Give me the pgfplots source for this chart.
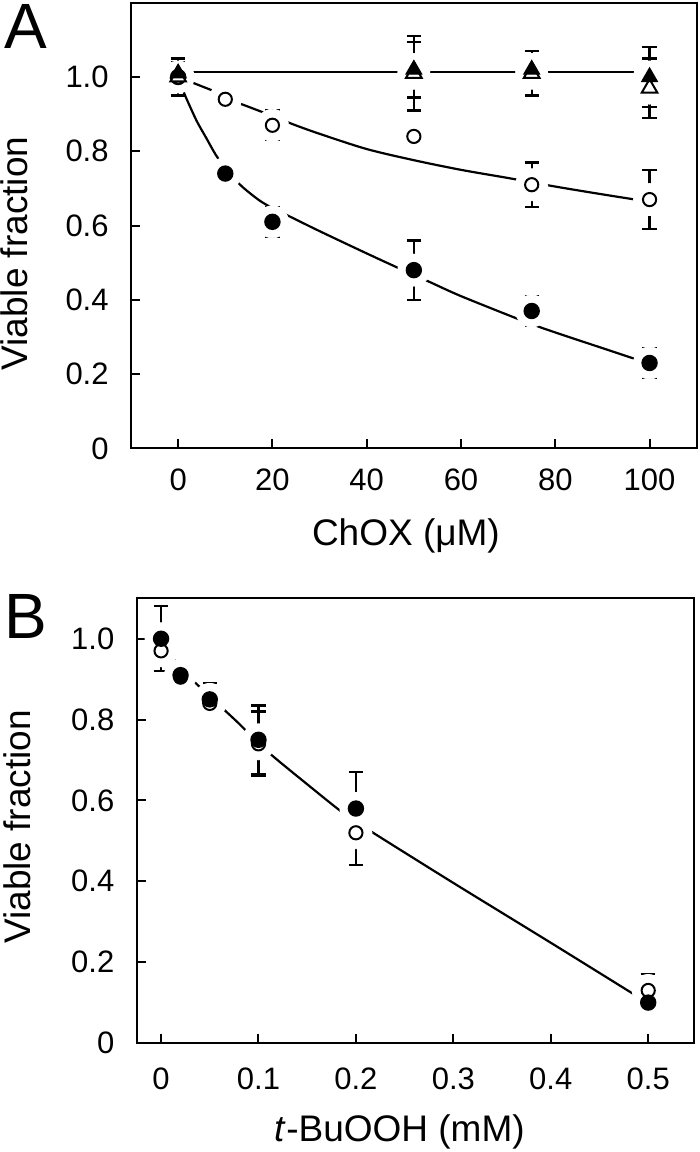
\documentclass[border=0pt]{standalone}
\usepackage{fontspec}
\setmainfont{Liberation Sans}
\usepackage{pgfplots}
\pgfplotsset{compat=1.18}

\pgfplotsset{
  panel/.style={
    scale only axis,
    axis line style={line width=1pt},
    tick align=inside, xtick pos=bottom, ytick pos=left,
    major tick length=4.7pt,
    tick style={line width=1pt, black},
    ticklabel style={font=\fontsize{15.5}{18}\selectfont, inner sep=0pt},
    label style={font=\fontsize{18.5}{22}\selectfont, inner sep=0pt},
    ytick={0,0.2,0.4,0.6,0.8,1.0},
    yticklabels={0,0.2,0.4,0.6,0.8,1.0},
    yticklabel style={xshift=-11pt},
    ylabel={Viable fraction},
  },
  curve/.style={black, line width=1.1pt, smooth, tension=0.5, no markers},
  halo/.style={white, only marks, mark=*, mark size=8pt, mark options={draw=white, fill=white}},
  eb/.style={black, only marks,
    error bars/y dir=both, error bars/y explicit,
    error bars/error bar style={line width=1.1pt, black},
    error bars/error mark options={rotate=90, mark size=3.6pt, line width=1.1pt, black}},
  fc/.style={mark=*, mark size=3.7pt, mark options={fill=black, draw=black, line width=0.8pt}},
  oc/.style={mark=*, mark size=3.3pt, mark options={fill=white, draw=black, line width=1pt}},
  ft/.style={mark=triangle*, mark size=4.5pt, mark options={fill=black, draw=black, line width=0.6pt}},
  ot/.style={mark=triangle*, mark size=4.5pt, mark options={fill=white, draw=black, line width=1pt}},
}

\begin{document}
\begin{tikzpicture}
\path[use as bounding box] (0pt,0pt) rectangle (350pt,-576pt);

% ---------------- Panel A ----------------
\begin{axis}[panel,
  at={(65.5pt,-224.2pt)}, anchor=south west,
  width=282.85pt, height=222.85pt,
  xmin=-10, xmax=110, ymin=0, ymax=1.2,
  xtick={0,20,40,60,80,100},
  xticklabels={0,20,40,60,80,100},
  xticklabel style={yshift=-10pt},
  xlabel={ChOX (μM)},
  xlabel style={at={(rel axis cs:0.486,0)}, anchor=base, yshift=-48.3pt},
  ylabel style={at={(rel axis cs:-0.181,0.437)}, anchor=south},
]
% fitted lines
\addplot[curve] coordinates {(0,1.013) (100,1.013)};
\addplot[curve] coordinates {(0,1.0) (2,0.99) (5,0.975) (8.5,0.957) (11.4,0.937) (15.3,0.918) (20,0.895) (24.3,0.873) (30,0.847) (40,0.806) (50,0.776) (60,0.75) (70,0.728) (80,0.705) (90,0.684) (100,0.664)};
\addplot[curve] coordinates {(0,1.0) (1,0.965) (2,0.935) (4,0.88) (6,0.835) (8,0.79) (10,0.755) (12,0.725) (14,0.7) (17.2,0.668) (20,0.647) (23.9,0.623) (30,0.585) (40,0.525) (48.9,0.473) (53.2,0.449) (60,0.41) (72.4,0.347) (77.5,0.323) (90,0.27) (100,0.228)};
% white halos
\addplot[halo] coordinates {(0,1.0) (10,0.94) (20,0.87) (50,0.84) (75,0.71) (100,0.67)
  (10,0.74) (20,0.61) (50,0.48) (75,0.37) (100,0.23)
  (50,1.02) (75,1.02) (100,1.0) (100,0.97) (50,1.01) (75,1.01)};
% filled circles
\addplot[eb, fc] coordinates {(0,1.0) +- (0,0.02) (10,0.74) +- (0,0.02) (20,0.61) +- (0,0.04) (50,0.48) +- (0,0.08) (75,0.37) +- (0,0.04) (100,0.23) +- (0,0.04)};
% open circles
\addplot[eb, oc] coordinates {(0,1.0) +- (0,0.02) (10,0.94) +- (0,0.015) (20,0.87) +- (0,0.04) (50,0.84) +- (0,0.015) (75,0.71) +- (0,0.06) (100,0.67) +- (0,0.08)};
% open triangles
\addplot[eb, ot] coordinates {(0,1.0) +- (0,0.05) (50,1.01) +- (0,0.1) (75,1.01) +- (0,0.06) (100,0.97) +- (0,0.08)};
% filled triangles
\addplot[eb, ft] coordinates {(0,1.01) +- (0,0.03) (50,1.02) +- (0,0.075) (75,1.02) +- (0,0.02) (100,1.0) +- (0,0.08)};
\end{axis}

% ---------------- Panel B ----------------
\begin{axis}[panel,
  at={(68.35pt,-521.5pt)}, anchor=south west,
  width=278.65pt, height=222.35pt,
  xmin=-0.025, xmax=0.547, ymin=0, ymax=1.1,
  xtick={0,0.1,0.2,0.3,0.4,0.5},
  xticklabels={0,0.1,0.2,0.3,0.4,0.5},
  xticklabel style={yshift=-12pt},
  xlabel={\textit{t}-BuOOH (mM)},
  xlabel style={at={(rel axis cs:0.472,0)}, anchor=base, yshift=-49pt},
  ylabel style={at={(rel axis cs:-0.19,0.486)}, anchor=south},
]
\addplot[curve] coordinates {(0,1.0) (0.005,0.98) (0.01,0.96) (0.02,0.928) (0.03,0.903) (0.04,0.88) (0.05,0.857) (0.064,0.826) (0.08,0.79) (0.1,0.742) (0.117,0.705) (0.15,0.64) (0.182,0.578) (0.2,0.548) (0.219,0.518) (0.3,0.396) (0.4,0.248) (0.489,0.115) (0.5,0.099)};
\addplot[halo] coordinates {(0,1.0) (0.02,0.91) (0.05,0.85) (0.1,0.75) (0.2,0.58) (0.5,0.10)
  (0,0.97) (0.05,0.84) (0.1,0.74) (0.2,0.52) (0.5,0.13)};
% open circles
\addplot[eb, oc] coordinates {(0,0.97) +- (0,0.05) (0.02,0.905) +- (0,0.01) (0.05,0.84) +- (0,0.03) (0.1,0.74) +- (0,0.08) (0.2,0.52) +- (0,0.08) (0.5,0.13) +- (0,0.04)};
% filled circles
\addplot[eb, fc] coordinates {(0,1.0) +- (0,0.08) (0.02,0.91) +- (0,0.01) (0.05,0.85) +- (0,0.04) (0.1,0.75) +- (0,0.085) (0.2,0.58) +- (0,0.09) (0.5,0.10) +- (0,0.03)};
\end{axis}

\node[anchor=north west, inner sep=0pt, font=\fontsize{32}{36}\selectfont] at (1.8pt,-1.8pt) {A};
\node[anchor=north west, inner sep=0pt, font=\fontsize{32}{36}\selectfont] at (1.9pt,-297pt) {B};
\end{tikzpicture}
\end{document}
